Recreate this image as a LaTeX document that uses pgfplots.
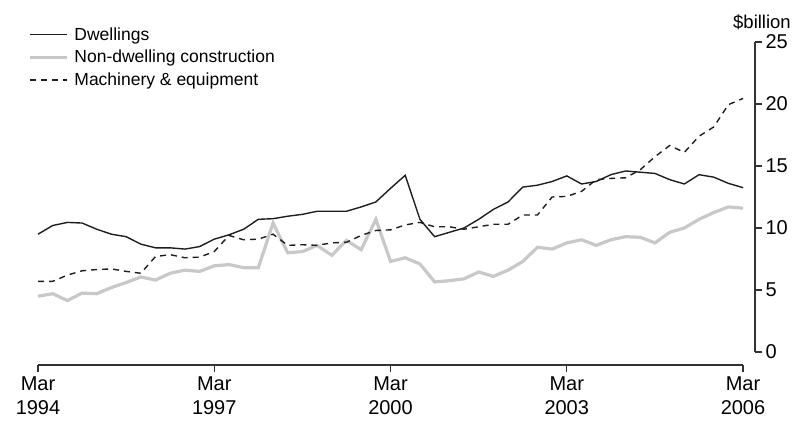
\documentclass[border=0pt]{standalone}
\usepackage{pgfplots}
\pgfplotsset{compat=1.18}
\usepackage{fontspec}
\setmainfont{Liberation Sans}

\pgfplotstableread{
q dw nd me
0 9.5 4.5 5.7
1 10.2 4.7 5.7
2 10.45 4.15 6.2
3 10.4 4.75 6.55
4 9.9 4.7 6.65
5 9.5 5.2 6.7
6 9.3 5.6 6.5
7 8.7 6.05 6.35
8 8.4 5.8 7.7
9 8.4 6.35 7.85
10 8.3 6.6 7.6
11 8.5 6.5 7.65
12 9.1 6.95 8.1
13 9.45 7.05 9.4
14 9.9 6.8 9.05
15 10.7 6.8 9.1
16 10.75 10.4 9.5
17 10.95 8.0 8.6
18 11.1 8.1 8.65
19 11.35 8.6 8.6
20 11.35 7.8 8.8
21 11.35 9.0 8.85
22 11.7 8.25 9.4
23 12.1 10.7 9.8
24 13.2 7.3 9.85
25 14.25 7.6 10.25
26 10.7 7.1 10.45
27 9.3 5.65 10.1
28 9.65 5.75 10.1
29 10.0 5.9 9.9
30 10.7 6.45 10.1
31 11.5 6.1 10.3
32 12.1 6.6 10.3
33 13.3 7.3 11.05
34 13.45 8.45 11.05
35 13.75 8.3 12.5
36 14.2 8.8 12.55
37 13.55 9.05 12.95
38 13.75 8.6 13.9
39 14.3 9.05 14.0
40 14.6 9.3 14.05
41 14.5 9.25 14.7
42 14.4 8.8 15.75
43 13.9 9.65 16.65
44 13.55 10.0 16.1
45 14.3 10.7 17.4
46 14.1 11.25 18.15
47 13.6 11.7 19.95
48 13.25 11.6 20.45
}\datatable

\definecolor{dwcol}{HTML}{1E1E1E}
\definecolor{ndcol}{HTML}{C8C8C8}
\definecolor{axcol}{HTML}{333333}

\begin{document}
\begin{tikzpicture}[font=\fontsize{17.5bp}{21bp}\selectfont]
\useasboundingbox (-38bp,-69bp) rectangle (756bp,352bp);
% main data axis, value scale on the right
\begin{axis}[
  scale only axis,
  width=717bp, height=310bp,
  xmin=0, xmax=48.81,
  ymin=0, ymax=25,
  axis x line=none,
  axis y line*=right,
  axis line style={axcol, line width=1.2bp},
  ytick={0,5,10,15,20,25},
  tick align=outside,
  major tick length=7bp,
  tick style={axcol, line width=1.2bp},
  yticklabel style={anchor=west, xshift=0bp, font=\fontsize{20bp}{24bp}\selectfont},
  /pgf/number format/assume math mode=true,
  clip=false,
  legend cell align=left,
  legend style={at={(-0.0139,1.054)}, anchor=north west, draw=none, fill=none,
    inner sep=0pt, row sep=4.5bp, font=\fontsize{17.5bp}{21bp}\selectfont,
    /tikz/every odd column/.append style={column sep=4bp}},
  legend image code/.code={\draw[#1] (0bp,0bp) -- (37bp,0bp);},
]
\addplot[dwcol, line width=1.4bp] table[x=q, y=dw] {\datatable};
\addlegendentry{Dwellings}
\addplot[ndcol, line width=3.2bp] table[x=q, y=nd] {\datatable};
\addlegendentry{Non-dwelling construction}
\addplot[dwcol, line width=1.4bp, dash pattern=on 6bp off 5bp] table[x=q, y=me] {\datatable};
\addlegendentry{Machinery \& equipment}
\node[anchor=south, inner sep=0pt, font=\fontsize{18.5bp}{22bp}\selectfont] at ([xshift=7bp, yshift=12bp]rel axis cs:1,1) {\$billion};
\end{axis}
% time axis, drawn apart below the plot
\begin{axis}[
  at={(0bp,-13bp)},
  scale only axis,
  width=705bp, height=10bp,
  xmin=0, xmax=48,
  ymin=0, ymax=1,
  hide y axis,
  axis x line*=bottom,
  axis line style={axcol, line width=1.2bp},
  xtick={0,12,24,36,48},
  xticklabels={{Mar\\1994},{Mar\\1997},{Mar\\2000},{Mar\\2003},{Mar\\2006}},
  xticklabel style={align=center, font=\fontsize{20bp}{24.5bp}\selectfont, yshift=-1bp},
  tick align=outside,
  major tick length=7bp,
  tick style={axcol, line width=1.2bp},
]
\end{axis}
\end{tikzpicture}
\end{document}
